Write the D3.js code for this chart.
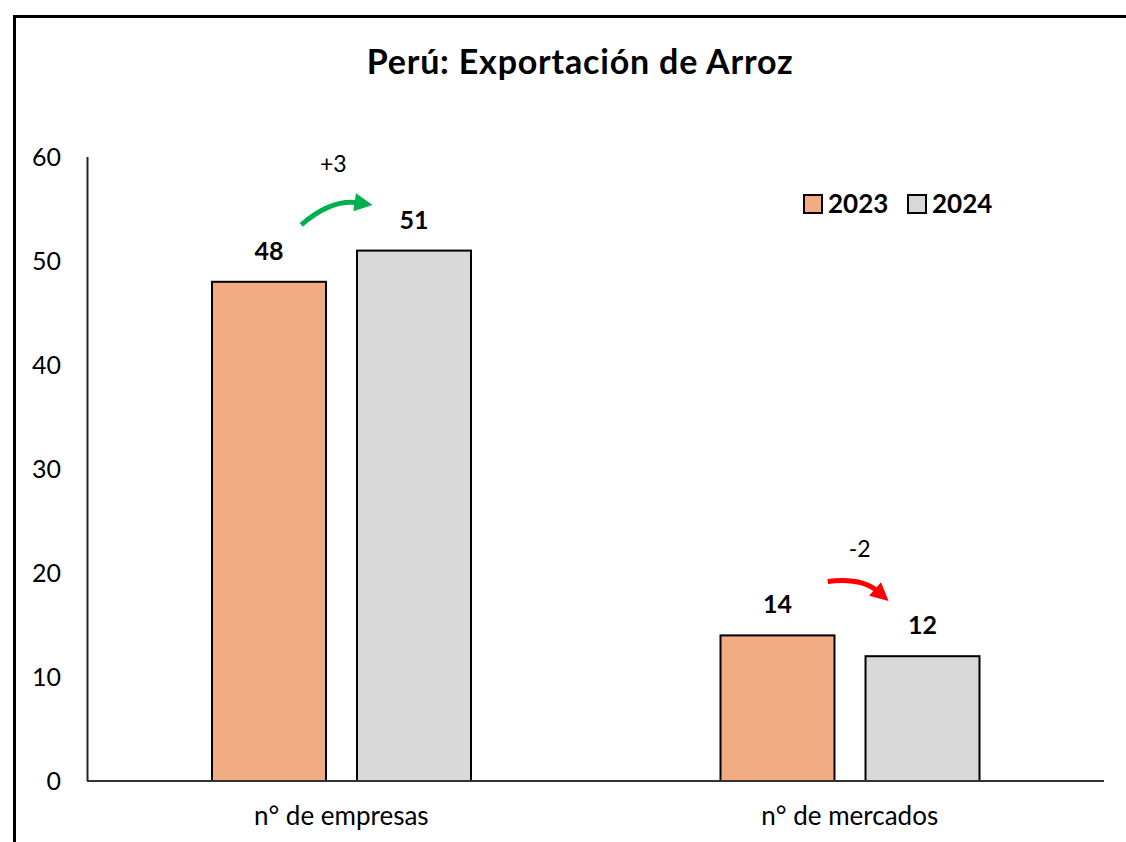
<!DOCTYPE html>
<html>
<head>
<meta charset="utf-8">
<script src="https://cdn.jsdelivr.net/npm/d3@7"></script>
<style>
  body{margin:0;background:#fff;}
  text{font-family:Lato,"Open Sans",sans-serif;fill:#000;}
</style>
</head>
<body>
<svg id="chart" width="1126" height="842"></svg>
<script>
const categories = ["n° de empresas", "n° de mercados"];
const years = ["2023", "2024"];
const values2023 = [48, 14];
const values2024 = [51, 12];
const changes = ["+3", "-2"];
const yTicks = [0, 10, 20, 30, 40, 50, 60];
const colors = {"2023": "#F2AC84", "2024": "#D9D9D9"};
const arrowColors = ["#00B050", "#FF0000"];

const svg = d3.select("#chart");
const W = 1126, H = 842;

// outer frame (cut off at right and bottom like the original)
svg.append("rect")
    .attr("x", 14.5).attr("y", 16.5)
    .attr("width", W).attr("height", H)
    .attr("fill", "none").attr("stroke", "#000").attr("stroke-width", 3);

svg.append("text")
    .attr("x", 580).attr("y", 74)
    .attr("text-anchor", "middle")
    .style("font-size", "34px").style("font-weight", "bold")
    .style("letter-spacing", "0.8px")
    .text("Perú: Exportación de Arroz");

const x0 = d3.scaleBand().domain(categories).range([87, 1104]);
const x1 = d3.scaleBand().domain(years).range([125, 384]).paddingInner(0.214);
const y = d3.scaleLinear().domain([0, 60]).range([781, 157]);

const rows = categories.map((c, i) => ({cat: c, i: i, vals: [
    {year: "2023", v: values2023[i]},
    {year: "2024", v: values2024[i]}
]}));

// y axis: line only with labels
svg.append("line")
    .attr("x1", 87.5).attr("x2", 87.5).attr("y1", y(60)).attr("y2", y(0))
    .attr("stroke", "#222").attr("stroke-width", 2);
svg.selectAll(".ytick").data(yTicks).enter().append("text")
    .attr("class", "ytick")
    .attr("x", 61).attr("y", d => y(d) + 8.5)
    .attr("text-anchor", "end")
    .style("font-size", "25px")
    .text(d => d);

const g = svg.selectAll(".grp").data(rows).enter().append("g")
    .attr("transform", d => `translate(${x0(d.cat)},0)`);

g.selectAll("rect").data(d => d.vals).enter().append("rect")
    .attr("x", d => x1(d.year))
    .attr("width", x1.bandwidth())
    .attr("y", d => y(d.v))
    .attr("height", d => y(0) - y(d.v))
    .attr("fill", d => colors[d.year])
    .attr("stroke", "#000").attr("stroke-width", 2);

g.selectAll(".lbl").data(d => d.vals).enter().append("text")
    .attr("class", "lbl")
    .attr("x", d => x1(d.year) + x1.bandwidth() / 2)
    .attr("y", d => y(d.v) - 22)
    .attr("text-anchor", "middle")
    .style("font-size", "25px").style("font-weight", "bold")
    .text(d => d.v);

// x axis
svg.append("line")
    .attr("x1", 87).attr("x2", 1104).attr("y1", 781).attr("y2", 781)
    .attr("stroke", "#333").attr("stroke-width", 2);
svg.selectAll(".xlab").data(categories).enter().append("text")
    .attr("class", "xlab")
    .attr("x", d => x0(d) + x0.bandwidth() / 2)
    .attr("y", 825)
    .attr("text-anchor", "middle")
    .style("font-size", "26px")
    .text(d => d);

// change arrows
const defs = svg.append("defs");
arrowColors.forEach((c, i) => {
    defs.append("marker")
        .attr("id", "ah" + i)
        .attr("viewBox", "0 0 10 10")
        .attr("refX", 2).attr("refY", 5)
        .attr("markerUnits", "userSpaceOnUse")
        .attr("markerWidth", 22).attr("markerHeight", 18)
        .attr("orient", "auto")
        .append("path").attr("d", "M0,0 L10,5 L0,10 Z").attr("fill", c);
});

rows.forEach(d => {
    const cx = x0(d.cat) + x0.bandwidth() / 2;
    if (values2024[d.i] >= values2023[d.i]) {
        const y0 = y(values2023[d.i]) - 57;
        svg.append("path")
            .attr("d", `M${cx - 40},${y0} Q${cx - 10},${y0 - 26} ${cx + 17},${y0 - 22}`)
            .attr("fill", "none").attr("stroke", arrowColors[d.i]).attr("stroke-width", 5)
            .attr("marker-end", "url(#ah" + d.i + ")");
        svg.append("text")
            .attr("x", cx - 8).attr("y", y0 - 53)
            .attr("text-anchor", "middle").style("font-size", "23px")
            .text(changes[d.i]);
    } else {
        const y0 = y(values2023[d.i]) - 54;
        svg.append("path")
            .attr("d", `M${cx - 22},${y0} Q${cx + 12},${y0 - 4} ${cx + 28},${y0 + 10}`)
            .attr("fill", "none").attr("stroke", arrowColors[d.i]).attr("stroke-width", 5)
            .attr("marker-end", "url(#ah" + d.i + ")");
        svg.append("text")
            .attr("x", cx + 10).attr("y", y0 - 24)
            .attr("text-anchor", "middle").style("font-size", "23px")
            .text(changes[d.i]);
    }
});

// legend
const leg = svg.append("g").attr("transform", "translate(804,195)");
const li = leg.selectAll("g").data(years).enter().append("g")
    .attr("transform", (d, i) => `translate(${i * 104},0)`);
li.append("rect").attr("width", 18).attr("height", 18)
    .attr("fill", d => colors[d]).attr("stroke", "#000").attr("stroke-width", 2);
li.append("text").attr("x", 24).attr("y", 18)
    .style("font-size", "26px").style("font-weight", "bold")
    .text(d => d);
</script>
</body>
</html>
